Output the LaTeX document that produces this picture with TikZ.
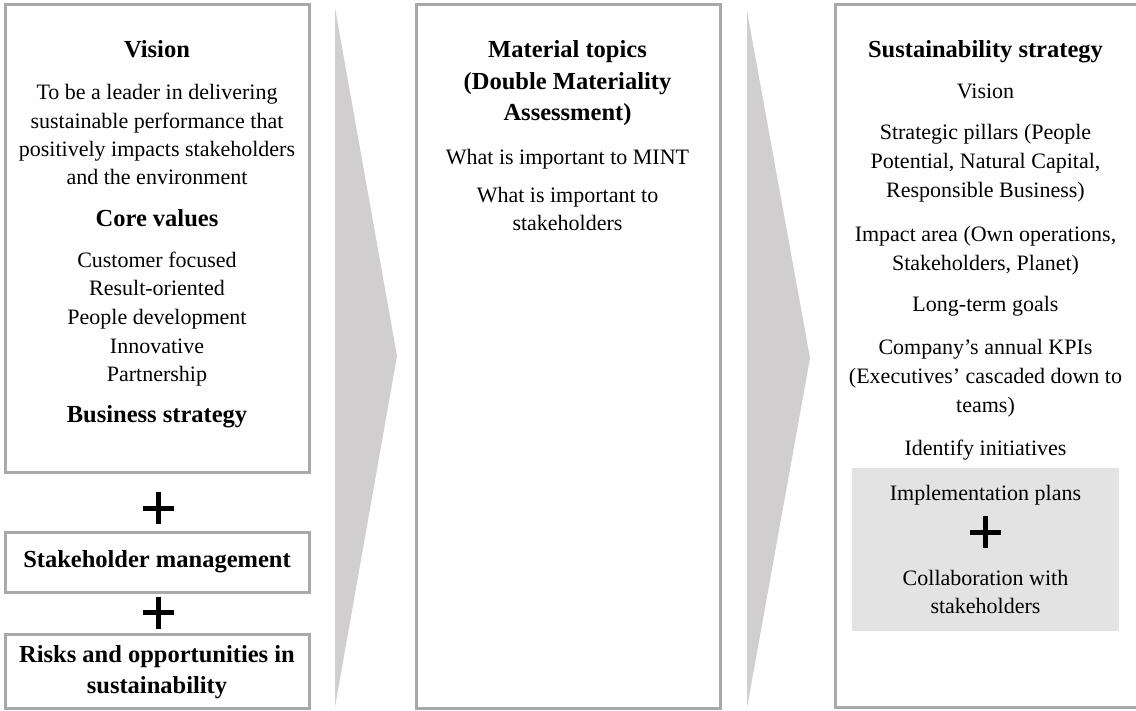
\documentclass[tikz,border=0pt]{standalone}
\usepackage{fontspec}
\setmainfont{Liberation Serif}
\definecolor{frame}{HTML}{A9A9A9}
\definecolor{chevron}{HTML}{D0CECE}
\definecolor{panel}{HTML}{E3E3E3}
\begin{document}
% multi-line nodes are placed by the baseline of their last line
\begin{tikzpicture}[x=1pt,y=-1pt,
  box/.style={draw=frame, line width=3pt},
  head/.style={font=\fontsize{24.5}{31.5}\selectfont\bfseries, anchor=base, align=center, inner sep=0pt},
  body/.style={font=\fontsize{22}{28.8}\selectfont, anchor=base, align=center, inner sep=0pt},
  plusmark/.pic={\draw[line width=5pt] (-15.5,0) -- (15.5,0) (0,-16) -- (0,16);}]
\useasboundingbox (0,0) rectangle (1136,711);
\clip (0,0) rectangle (1136,711);

% flow chevrons between the columns
\fill[chevron] (335,8) -- (397,356) -- (335,707) -- cycle;
\fill[chevron] (747,11) -- (810,358) -- (747,708) -- cycle;

% column frames
\draw[box] (5.5,5) rectangle (309,472.5);
\draw[box] (5.5,532.5) rectangle (309,592.5);
\draw[box] (5.5,634) rectangle (309,708);
\draw[box] (416.5,5) rectangle (720.5,708);
\draw[box] (835.5,5) rectangle (1137,707);
\fill[panel] (852,468) rectangle (1119,631);

% left column
\node[head] (vision) at (157,58) {Vision};
\node[body, font=\fontsize{22}{28.4}\selectfont] (visiontext) at (157,185) {To be a leader in delivering\\sustainable performance that\\positively impacts stakeholders\\and the environment};
\node[head] (core) at (157,227) {Core values};
\node[body, font=\fontsize{22}{28.75}\selectfont] (values) at (157,382) {Customer focused\\Result-oriented\\People development\\Innovative\\Partnership};
\node[head] (business) at (157,423) {Business strategy};
\pic at (158,508) {plusmark};
\node[head] (stakemgmt) at (157,567) {Stakeholder management};
\pic at (158,612.5) {plusmark};
\node[head] (risks) at (157,693.5) {Risks and opportunities in\\sustainability};

% middle column
\node[head] (material) at (567.5,121) {Material topics\\(Double Materiality\\Assessment)};
\node[body] (mint) at (567.5,165) {What is important to MINT};
\node[body, font=\fontsize{22}{28}\selectfont] (stakeimp) at (567.5,231) {What is important to\\stakeholders};

% right column
\node[head] (susstrat) at (985.5,58) {Sustainability strategy};
\node[body] (svision) at (985.5,99) {Vision};
\node[body, font=\fontsize{22}{29}\selectfont] (pillars) at (985.5,198) {Strategic pillars (People\\Potential, Natural Capital,\\Responsible Business)};
\node[body, font=\fontsize{22}{29.5}\selectfont] (impact) at (985.5,271) {Impact area (Own operations,\\Stakeholders, Planet)};
\node[body] (goals) at (985.5,312) {Long-term goals};
\node[body, font=\fontsize{22}{29}\selectfont] (kpis) at (985.5,413) {Company’s annual KPIs\\(Executives’ cascaded down to\\teams)};
\node[body] (initiatives) at (985.5,455) {Identify initiatives};
\node[body] (implement) at (985.5,500) {Implementation plans};
\pic at (985.5,532) {plusmark};
\node[body, font=\fontsize{22}{28}\selectfont] (collab) at (985.5,613) {Collaboration with\\stakeholders};
\end{tikzpicture}
\end{document}
